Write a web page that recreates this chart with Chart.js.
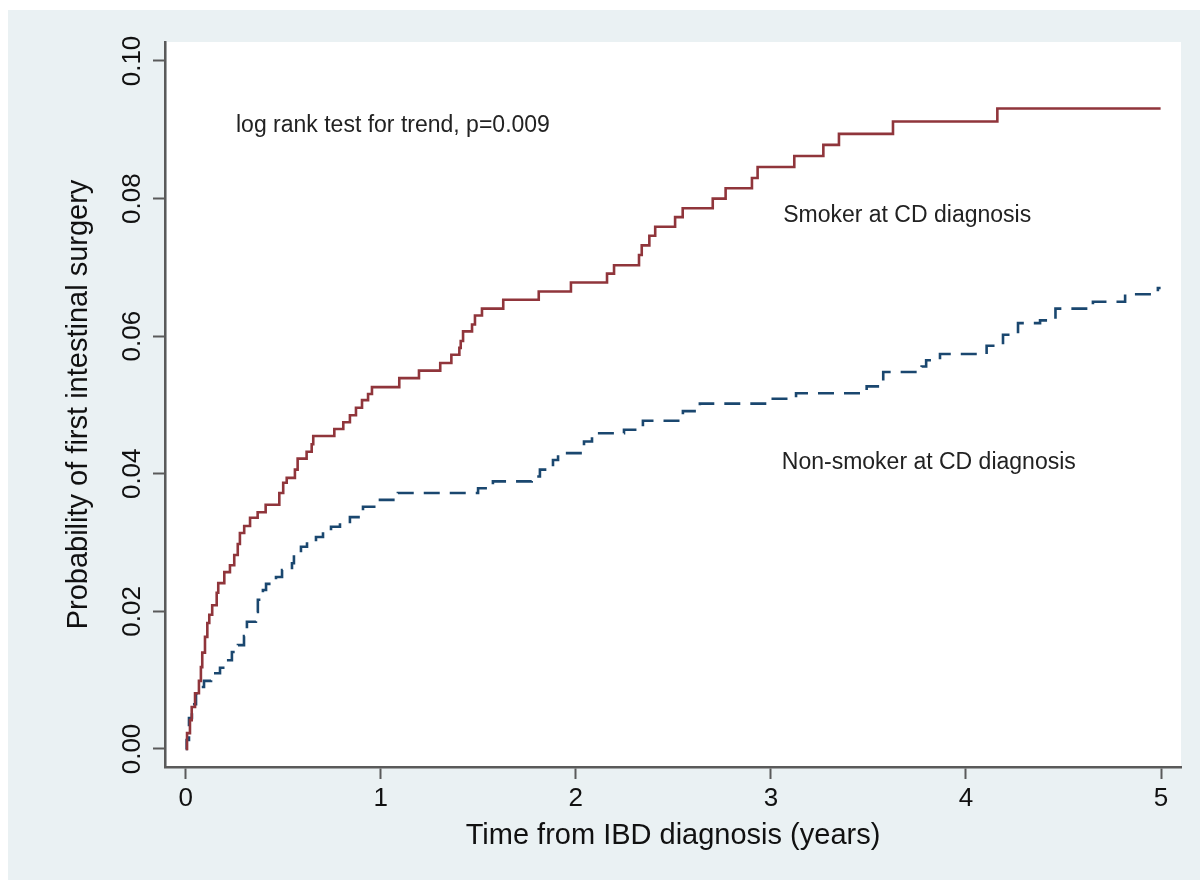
<!DOCTYPE html>
<html><head><meta charset="utf-8">
<script src="https://cdn.jsdelivr.net/npm/chart.js@4"></script>
<style>html,body{margin:0;padding:0;background:#fff}canvas{display:block}</style>
</head><body>
<canvas id="c" width="1200" height="880"></canvas>
<script>
const xTicks = [0, 1, 2, 3, 4, 5];
const yTicks = [0, 0.02, 0.04, 0.06, 0.08, 0.10];
const yTickLabels = ['0.00', '0.02', '0.04', '0.06', '0.08', '0.10'];
const xTitle = 'Time from IBD diagnosis (years)';
const yTitle = 'Probability of first intestinal surgery';
const noteTexts = ['log rank test for trend, p=0.009', 'Smoker at CD diagnosis', 'Non-smoker at CD diagnosis'];

const smokerTime = [0, 0.007, 0.022, 0.031, 0.048, 0.068, 0.078, 0.085, 0.099, 0.111, 0.121, 0.136, 0.159, 0.167, 0.198, 0.227, 0.249, 0.267, 0.278, 0.300, 0.330, 0.369, 0.410, 0.480, 0.500, 0.518, 0.560, 0.574, 0.620, 0.646, 0.654, 0.762, 0.808, 0.842, 0.873, 0.904, 0.935, 0.955, 1.095, 1.196, 1.305, 1.362, 1.403, 1.410, 1.422, 1.468, 1.483, 1.519, 1.628, 1.810, 1.975, 2.160, 2.196, 2.324, 2.338, 2.377, 2.407, 2.509, 2.548, 2.702, 2.768, 2.903, 2.932, 3.120, 3.269, 3.349, 3.626, 4.161, 4.998];
const smokerProb = [0, 0.0023, 0.0042, 0.0061, 0.0081, 0.0099, 0.0119, 0.0140, 0.0163, 0.0183, 0.0195, 0.0209, 0.0227, 0.0241, 0.0257, 0.0267, 0.0282, 0.0298, 0.0314, 0.0324, 0.0336, 0.0344, 0.0355, 0.0372, 0.0387, 0.0394, 0.0406, 0.0422, 0.0432, 0.0443, 0.0455, 0.0465, 0.0475, 0.0485, 0.0496, 0.0507, 0.0516, 0.0526, 0.0539, 0.0550, 0.0561, 0.0573, 0.0583, 0.0593, 0.0607, 0.0617, 0.0630, 0.0640, 0.0653, 0.0665, 0.0678, 0.0691, 0.0703, 0.0718, 0.0732, 0.0746, 0.0759, 0.0773, 0.0786, 0.0800, 0.0815, 0.0830, 0.0846, 0.0862, 0.0878, 0.0894, 0.0912, 0.0931, 0.0931];

const nonSmokerTime = [0, 0.005, 0.017, 0.032, 0.053, 0.068, 0.094, 0.130, 0.176, 0.207, 0.237, 0.268, 0.299, 0.314, 0.360, 0.370, 0.396, 0.412, 0.463, 0.494, 0.545, 0.555, 0.591, 0.622, 0.668, 0.704, 0.745, 0.791, 0.842, 0.909, 0.996, 1.088, 1.499, 1.575, 1.774, 1.816, 1.883, 1.909, 2.042, 2.083, 2.247, 2.344, 2.549, 2.636, 2.980, 3.129, 3.491, 3.576, 3.773, 3.796, 3.867, 4.106, 4.190, 4.267, 4.380, 4.459, 4.651, 4.816, 4.984, 4.998];
const nonSmokerProb = [0, 0.0013, 0.0045, 0.0065, 0.0081, 0.0090, 0.0099, 0.0110, 0.0118, 0.0129, 0.0141, 0.0151, 0.0164, 0.0185, 0.0199, 0.0217, 0.0231, 0.0240, 0.0250, 0.0260, 0.0270, 0.0285, 0.0294, 0.0301, 0.0308, 0.0315, 0.0323, 0.0330, 0.0337, 0.0352, 0.0362, 0.0372, 0.0379, 0.0389, 0.0396, 0.0406, 0.0420, 0.0430, 0.0447, 0.0459, 0.0464, 0.0477, 0.0491, 0.0502, 0.0509, 0.0517, 0.0527, 0.0548, 0.0556, 0.0565, 0.0574, 0.0586, 0.0602, 0.0619, 0.0623, 0.0640, 0.0650, 0.0661, 0.0670, 0.0670];

const toPts = (ts, ps) => ts.map((t, i) => ({x: t, y: ps[i]}));
const FONT = '"Liberation Sans", Arial, Helvetica, sans-serif';
const notePos = [[0.258, 0.0906], [3.063, 0.0775], [3.056, 0.0416]];

const bgPlugin = {
  id: 'bg',
  beforeDraw(chart) {
    const ctx = chart.ctx, a = chart.chartArea;
    ctx.save();
    ctx.fillStyle = '#ffffff';
    ctx.fillRect(0, 0, chart.width, chart.height);
    ctx.fillStyle = '#eaf1f3';
    ctx.fillRect(8, 10, chart.width - 8, chart.height - 10);
    ctx.fillStyle = '#ffffff';
    ctx.fillRect(a.left + 2, a.top, a.right - a.left - 2, a.bottom - a.top - 1);
    ctx.restore();
  }
};
const notePlugin = {
  id: 'notes',
  afterDatasetsDraw(chart) {
    const ctx = chart.ctx, xs = chart.scales.x, ys = chart.scales.y;
    ctx.save();
    ctx.font = '23px ' + FONT;
    ctx.fillStyle = '#222222';
    ctx.textAlign = 'left';
    ctx.textBaseline = 'middle';
    noteTexts.forEach((t, i) => {
      ctx.fillText(t, xs.getPixelForValue(notePos[i][0]), ys.getPixelForValue(notePos[i][1]));
    });
    ctx.restore();
  }
};

new Chart(document.getElementById('c'), {
  type: 'line',
  data: {
    datasets: [
      {label: 'Smoker at CD diagnosis', data: toPts(smokerTime, smokerProb), borderColor: '#90353b', borderWidth: 2.6, stepped: 'before', pointRadius: 0, fill: false},
      {label: 'Non-smoker at CD diagnosis', data: toPts(nonSmokerTime, nonSmokerProb), borderColor: '#1a476f', borderWidth: 2.6, borderDash: [16, 10], stepped: 'before', pointRadius: 0, fill: false}
    ]
  },
  options: {
    responsive: false,
    animation: false,
    devicePixelRatio: 1,
    layout: {padding: {left: 0, top: 42, right: 19, bottom: 0}},
    plugins: {legend: {display: false}, tooltip: {enabled: false}},
    scales: {
      x: {
        type: 'linear', min: -0.106, max: 5.1025,
        afterFit(s) { s.height = 113; },
        afterBuildTicks(s) { s.ticks = xTicks.map(v => ({value: v})); },
        grid: {display: true, drawOnChartArea: false, drawTicks: true, tickLength: 12, tickWidth: 2, tickColor: '#5a5a5a'},
        border: {display: true, color: '#5a5a5a', width: 2.5},
        ticks: {font: {family: FONT, size: 26}, color: '#111111', padding: 4, maxRotation: 0, minRotation: 0, autoSkip: false, callback: v => String(v)},
        title: {display: true, text: xTitle, font: {family: FONT, size: 29}, color: '#111111', padding: {top: 0, bottom: 27}}
      },
      y: {
        type: 'linear', min: -0.00262, max: 0.10276,
        afterFit(s) { s.width = 165; },
        afterBuildTicks(s) { s.ticks = yTicks.map(v => ({value: v})); },
        grid: {display: true, drawOnChartArea: false, drawTicks: true, tickLength: 12, tickWidth: 2, tickColor: '#5a5a5a'},
        border: {display: true, color: '#5a5a5a', width: 2.5},
        ticks: {font: {family: FONT, size: 26}, color: '#111111', padding: -5, minRotation: 90, maxRotation: 90, crossAlign: 'center', autoSkip: false,
          callback: (v, i) => yTickLabels[yTicks.indexOf(v)] ?? ''},
        title: {display: true, text: yTitle, font: {family: FONT, size: 29}, color: '#111111', padding: {top: 62, bottom: 0}}
      }
    }
  },
  plugins: [bgPlugin, notePlugin]
});
</script>
</body></html>
